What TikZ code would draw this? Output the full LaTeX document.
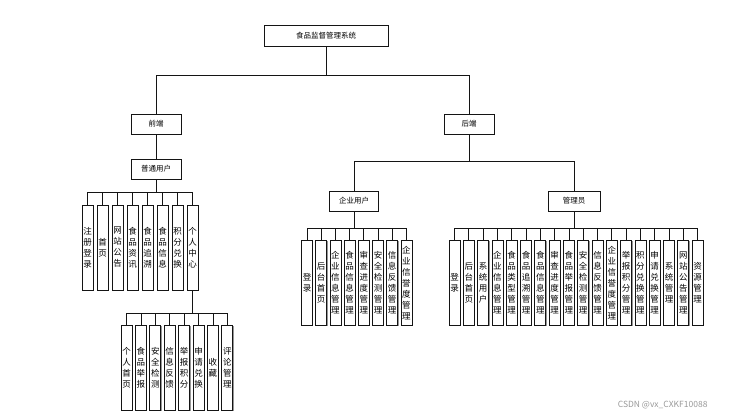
\documentclass[tikz,border=0pt]{standalone}
\usepackage{fontspec}
\setmainfont{Noto Sans CJK SC}
\usetikzlibrary{shadows}
\definecolor{ink}{RGB}{20,20,20}
\definecolor{shade}{RGB}{150,150,150}

\begin{document}
\begin{tikzpicture}[
  x=1pt, y=-1pt,
  box/.style={draw=ink, fill=white, line width=0.8pt, inner sep=0pt,
              font=\fontsize{7.5}{9}\selectfont,
              drop shadow={shadow xshift=0.9pt, shadow yshift=-0.9pt,
                           fill=shade, opacity=1}},
  leaf/.style={box, minimum width=11pt, minimum height=85pt, align=center,
               font=\fontsize{8.5}{11}\selectfont},
  ln/.style={draw=ink, line width=0.8pt},
]

\useasboundingbox (0,0) rectangle (730,418);

% ---- top levels ----
\node[box, minimum width=124pt, minimum height=21pt] (root) at (326,35.5) {食品监督管理系统};
\node[box, minimum width=50pt, minimum height=20pt] (fe) at (156,124) {前端};
\node[box, minimum width=50pt, minimum height=20pt] (be) at (469,124) {后端};
\node[box, minimum width=50pt, minimum height=20pt] (pu) at (156,169) {普通用户};
\node[box, minimum width=49pt, minimum height=20pt] (eu) at (354,201) {企业用户};
\node[box, minimum width=52pt, minimum height=20pt] (ad) at (574,201) {管理员};

\draw[ln] (root.south) -- ++(0,29) -| (fe.north);
\draw[ln] (root.south) -- ++(0,29) -| (be.north);
\draw[ln] (fe) -- (pu);
\draw[ln] (be.south) -- ++(0,27) -| (eu.north);
\draw[ln] (be.south) -- ++(0,27) -| (ad.north);

% ---- front end: user pages ----
\foreach \t [count=\i] in {{注\\册\\登\\录},{首\\页},{网\\站\\公\\告},{食\\品\\资\\讯},
                           {食\\品\\追\\溯},{食\\品\\信\\息},{积\\分\\兑\\换},{个\\人\\中\\心}}{
  \node[leaf] (pu\i) at ({87.5+15*(\i-1)},247.5) {\t};
  \draw[ln] (pu.south) -- ++(0,13) -| (pu\i.north);
}

% ---- personal centre ----
\foreach \t [count=\i] in {{个\\人\\首\\页},{食\\品\\举\\报},{安\\全\\检\\测},{信\\息\\反\\馈},
                           {举\\报\\积\\分},{申\\请\\兑\\换},{收\\藏},{评\\论\\管\\理}}{
  \node[leaf] (pc\i) at ({126.5+14.4*(\i-1)},367.5) {\t};
  \draw[ln] (pu8.south) -- ++(0,23) -| (pc\i.north);
}

% ---- back end: enterprise user ----
\foreach \t [count=\i] in {{登\\录},{后\\台\\首\\页},{企\\业\\信\\息\\管\\理},{食\\品\\信\\息\\管\\理},
                           {审\\查\\进\\度\\管\\理},{安\\全\\检\\测\\管\\理},{信\\息\\反\\馈\\管\\理},
                           {企\\业\\信\\誉\\度\\管\\理}}{
  \node[leaf] (eu\i) at ({307+14.2*(\i-1)},283) {\t};
  \draw[ln] (eu.south) -- ++(0,17) -| (eu\i.north);
}

% ---- back end: administrator ----
\foreach \t [count=\i] in {{登\\录},{后\\台\\首\\页},{系\\统\\用\\户},{企\\业\\信\\息\\管\\理},
                           {食\\品\\类\\型\\管\\理},{食\\品\\追\\溯\\管\\理},{食\\品\\信\\息\\管\\理},
                           {审\\查\\进\\度\\管\\理},{食\\品\\举\\报\\管\\理},{安\\全\\检\\测\\管\\理},
                           {信\\息\\反\\馈\\管\\理},{企\\业\\信\\誉\\度\\管\\理},{举\\报\\积\\分\\管\\理},
                           {积\\分\\兑\\换\\管\\理},{申\\请\\兑\\换\\管\\理},{系\\统\\管\\理},
                           {网\\站\\公\\告\\管\\理},{资\\源\\管\\理}}{
  \node[leaf] (ad\i) at ({454.5+14.3*(\i-1)},283) {\t};
  \draw[ln] (ad.south) -- ++(0,17) -| (ad\i.north);
}

% ---- watermark ----
\node[anchor=east, font=\fontsize{8.5}{10}\selectfont, text=black!40] (wm) at (711,405) {CSDN @vx\_CXKF10088};

\end{tikzpicture}
\end{document}
